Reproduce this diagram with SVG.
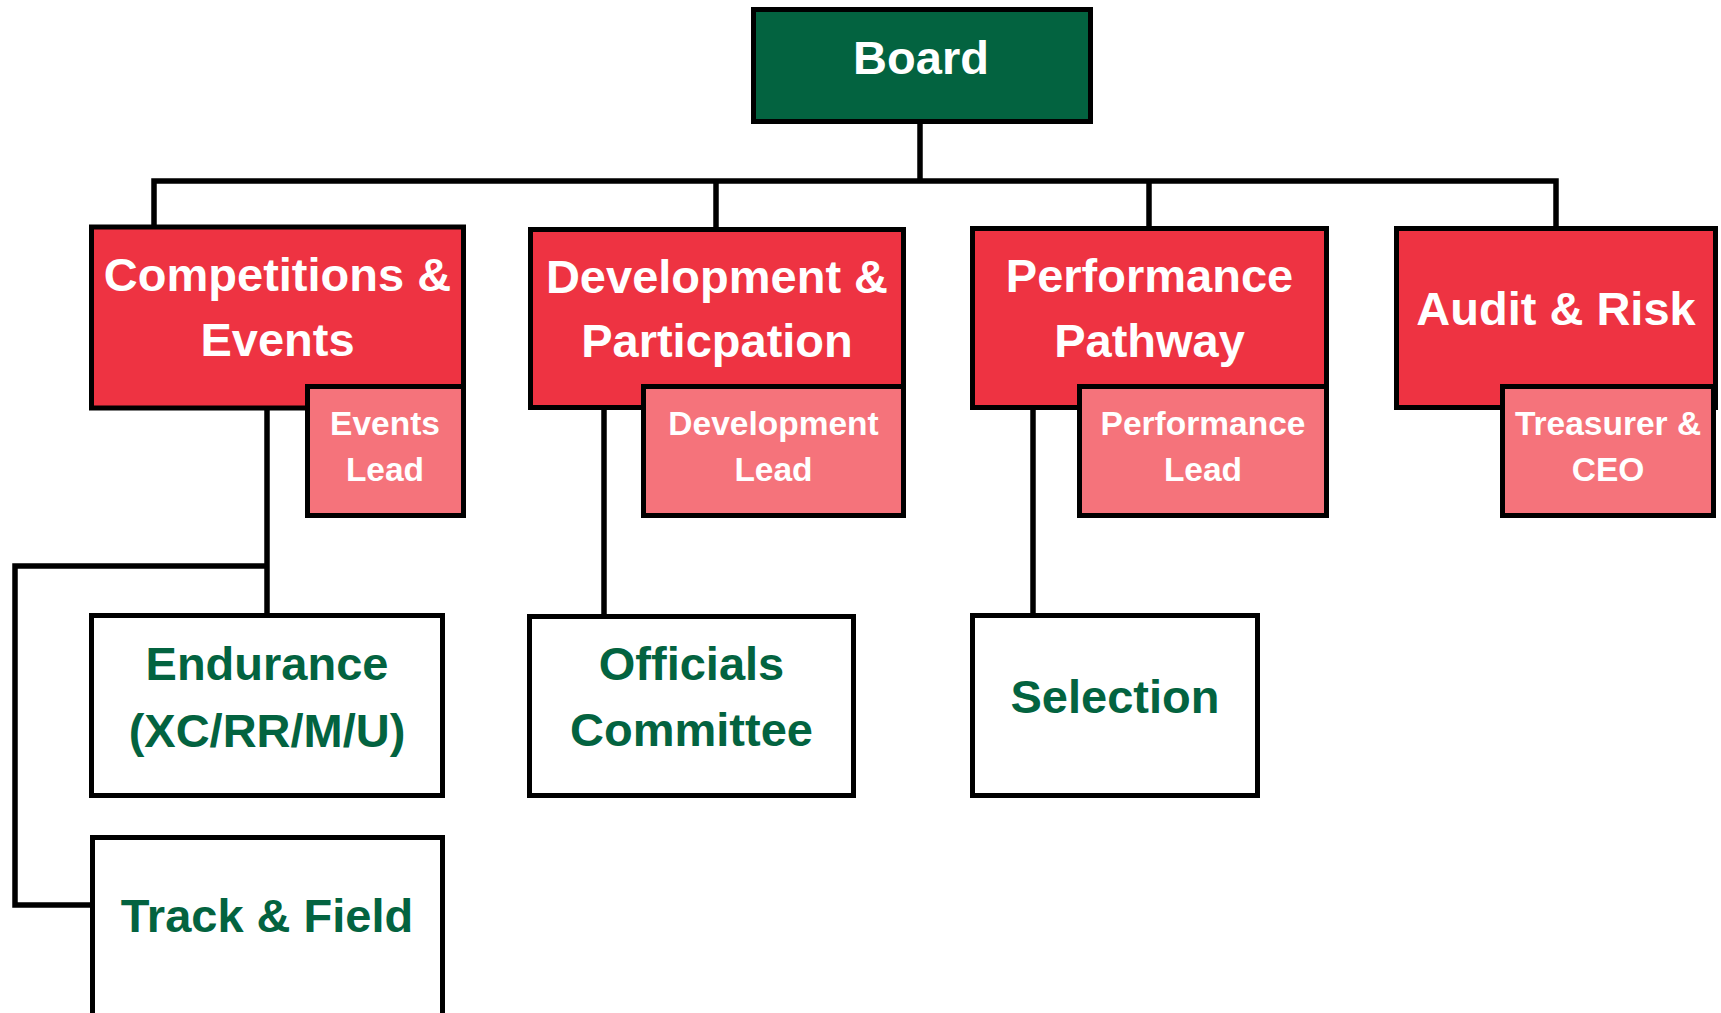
<svg xmlns="http://www.w3.org/2000/svg" width="1721" height="1013" viewBox="0 0 1721 1013">
<style>
.box{stroke:#000;stroke-width:5}
.board{fill:#036340}
.red{fill:#EE3342}
.pink{fill:#F5737B}
.white{fill:#fff}
.conn{fill:none;stroke:#000;stroke-width:5.5;stroke-linejoin:miter}
text{font-family:"Liberation Sans",Arial,sans-serif;font-weight:bold;text-anchor:middle}
.big{font-size:47px;fill:#fff}
.small{font-size:33.5px;fill:#fff}
.green{font-size:47px;fill:#036340}
</style>
<rect width="1721" height="1013" fill="#fff"/>
<g id="connectors">
<path class="conn" d="M920 124 V181"/>
<path class="conn" d="M154 227 V181 H1556 V227"/>
<path class="conn" d="M716 181 V229"/>
<path class="conn" d="M1149 181 V228"/>
<path class="conn" d="M267 408 V615"/>
<path class="conn" d="M267 566 H15 V905 H92"/>
<path class="conn" d="M604 408 V616"/>
<path class="conn" d="M1033 408 V615"/>
</g>
<g id="board">
<rect class="box board" x="753.5" y="9.5" width="337" height="112"/>
<text class="big" x="921" y="74">Board</text>
</g>
<g id="competitions">
<rect class="box red" x="91.5" y="227" width="372" height="181"/>
<text class="big" x="277.5" y="291">Competitions &amp;</text>
<text class="big" x="277.5" y="356">Events</text>
</g>
<g id="events-lead">
<rect class="box pink" x="307.5" y="386.5" width="156" height="129"/>
<text class="small" x="385" y="435">Events</text>
<text class="small" x="385" y="481">Lead</text>
</g>
<g id="development">
<rect class="box red" x="530.5" y="229.5" width="373" height="178"/>
<text class="big" x="717" y="293">Development &amp;</text>
<text class="big" x="717" y="357">Particpation</text>
</g>
<g id="development-lead">
<rect class="box pink" x="643.5" y="386.5" width="260" height="129"/>
<text class="small" x="773.5" y="435">Development</text>
<text class="small" x="773.5" y="481">Lead</text>
</g>
<g id="performance">
<rect class="box red" x="972.5" y="228.5" width="354" height="179"/>
<text class="big" x="1149.5" y="292">Performance</text>
<text class="big" x="1149.5" y="357">Pathway</text>
</g>
<g id="performance-lead">
<rect class="box pink" x="1079.5" y="386.5" width="247" height="129"/>
<text class="small" x="1203" y="435">Performance</text>
<text class="small" x="1203" y="481">Lead</text>
</g>
<g id="audit">
<rect class="box red" x="1396.5" y="228.5" width="319" height="179"/>
<text class="big" x="1556" y="325">Audit &amp; Risk</text>
</g>
<g id="treasurer">
<rect class="box pink" x="1502.5" y="386.5" width="211" height="129"/>
<text class="small" x="1608" y="435">Treasurer &amp;</text>
<text class="small" x="1608" y="481">CEO</text>
</g>
<g id="endurance">
<rect class="box white" x="91.5" y="615.5" width="351" height="180"/>
<text class="green" x="267" y="680">Endurance</text>
<text class="green" x="267" y="747">(XC/RR/M/U)</text>
</g>
<g id="officials">
<rect class="box white" x="529.5" y="616.5" width="324" height="179"/>
<text class="green" x="691.5" y="680">Officials</text>
<text class="green" x="691.5" y="746">Committee</text>
</g>
<g id="selection">
<rect class="box white" x="972.5" y="615.5" width="285" height="180"/>
<text class="green" x="1115" y="713">Selection</text>
</g>
<g id="track-field">
<rect class="box white" x="92.5" y="837.5" width="350" height="200"/>
<text class="green" x="267" y="932">Track &amp; Field</text>
</g>
</svg>
